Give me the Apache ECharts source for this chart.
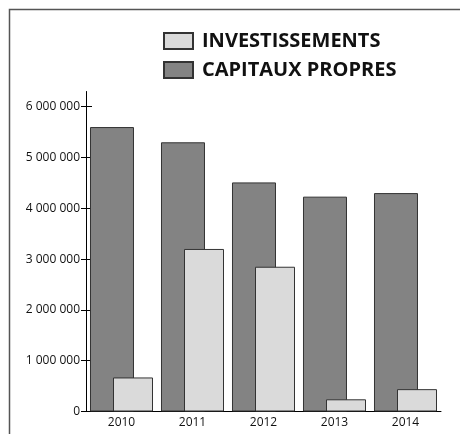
<!DOCTYPE html>
<html>
<head>
<meta charset="utf-8">
<script src="https://cdn.jsdelivr.net/npm/echarts@6/dist/echarts.min.js"></script>
<style>
  html, body { margin: 0; padding: 0; background: #fff; }
  #chart { width: 460px; height: 434px; }
</style>
</head>
<body>
<div id="chart"></div>
<script>
const categories = ['2010', '2011', '2012', '2013', '2014'];
const investissements = [670000, 3200000, 2850000, 240000, 440000];
const capitauxPropres = [5600000, 5300000, 4510000, 4230000, 4300000];
const yTicks = [0, 1000000, 2000000, 3000000, 4000000, 5000000, 6000000];
const yMax = 6300000;

function fmt(v) {
  return String(Math.round(v)).replace(/\B(?=(\d{3})+(?!\d))/g, ' ');
}

const chart = echarts.init(document.getElementById('chart'), null, { renderer: 'canvas' });
chart.setOption({
  animation: false,
  backgroundColor: '#fff',
  textStyle: { fontFamily: 'Open Sans' },
  graphic: [{
    type: 'polyline',
    shape: { points: [[9.5, 434], [9.5, 9.5], [460, 9.5]] },
    style: { stroke: '#555', lineWidth: 1.5, fill: null },
    silent: true
  }],
  legend: {
    orient: 'vertical',
    left: 163,
    top: 31,
    padding: 0,
    icon: 'rect',
    itemWidth: 29,
    itemHeight: 16,
    itemGap: 9,
    selectedMode: false,
    data: ['INVESTISSEMENTS', 'CAPITAUX PROPRES'],
    textStyle: { fontFamily: 'Open Sans', fontWeight: 'bold', fontSize: 20, color: '#111', lineHeight: 16, padding: [0, 0, 0, 4] }
  },
  grid: { left: 86, right: 19, top: 91.5, bottom: 22.5, containLabel: false },
  xAxis: {
    type: 'category',
    data: categories,
    axisLine: { lineStyle: { color: '#000', width: 1 } },
    axisTick: { show: false },
    axisLabel: { color: '#111', fontSize: 12, fontFamily: 'Open Sans', margin: 5 }
  },
  yAxis: [{
    type: 'value',
    min: 0,
    max: yMax,
    axisLine: { show: true, lineStyle: { color: '#000', width: 1 } },
    axisTick: { show: true, inside: true, length: 6, customValues: yTicks, lineStyle: { color: '#000' } },
    axisLabel: { color: '#111', fontSize: 12, fontFamily: 'Open Sans', margin: 6, customValues: yTicks, formatter: fmt },
    splitLine: { show: false }
  }, {
    type: 'value',
    min: 0,
    max: yMax,
    position: 'left',
    axisLine: { show: false },
    axisTick: { show: true, inside: false, length: 5, customValues: yTicks, lineStyle: { color: '#000' } },
    axisLabel: { show: false },
    splitLine: { show: false }
  }],
  series: [{
    name: 'CAPITAUX PROPRES',
    type: 'bar',
    data: capitauxPropres,
    barWidth: 44,
    barGap: '-47.7%',
    itemStyle: { color: '#838383', borderColor: '#333', borderWidth: 1 }
  }, {
    name: 'INVESTISSEMENTS',
    type: 'bar',
    data: investissements,
    barWidth: 40,
    itemStyle: { color: '#dadada', borderColor: '#333', borderWidth: 1 }
  }]
});
</script>
</body>
</html>
